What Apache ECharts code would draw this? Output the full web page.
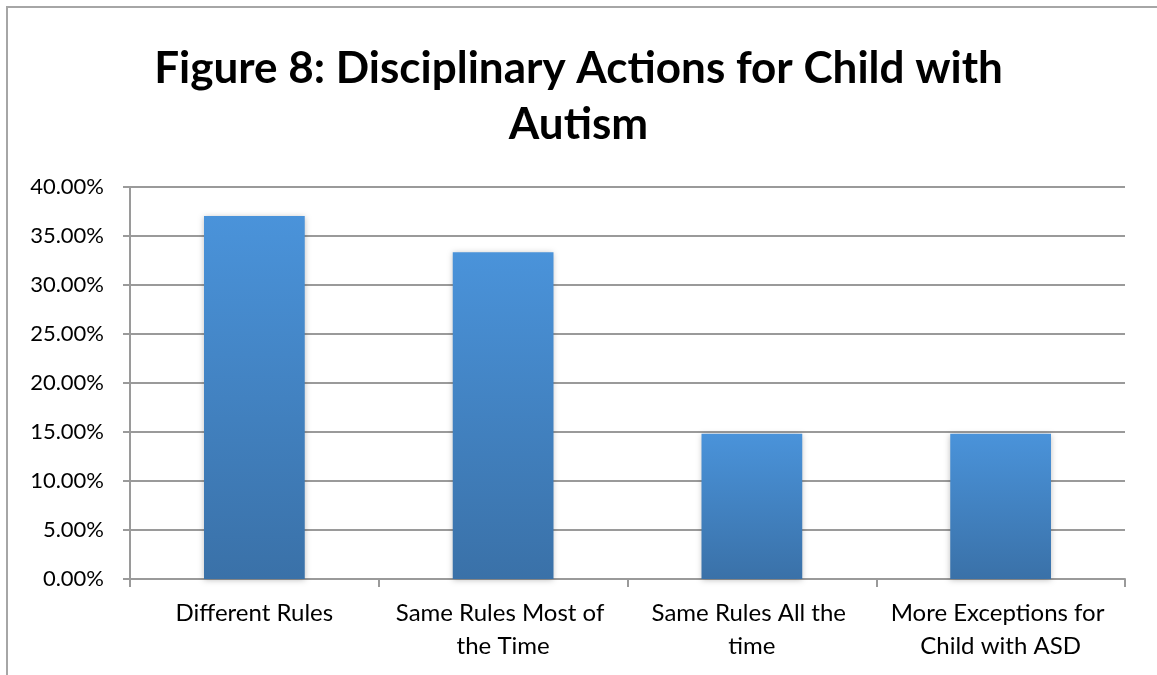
<!DOCTYPE html>
<html>
<head>
<meta charset="utf-8">
<script src="https://cdn.jsdelivr.net/npm/echarts@6/dist/echarts.min.js"></script>
<style>
  html, body { margin: 0; padding: 0; background: #fff; }
  #chart { width: 1157px; height: 675px; }
</style>
</head>
<body>
<div id="chart"></div>
<script>
  var categories = ['Different Rules', 'Same Rules Most of the Time', 'Same Rules All the time', 'More Exceptions for Child with ASD'];
  var values = [37.04, 33.33, 14.81, 14.81];
  var yTicks = { min: 0, max: 40, step: 5 };

  var myChart = echarts.init(document.getElementById('chart'));

  myChart.setOption({
    animation: false,
    title: {
      text: 'Figure 8: Disciplinary Actions for Child with\nAutism',
      left: 'center',
      top: 36,
      textStyle: {
        fontFamily: 'Lato',
        fontWeight: 'bold',
        fontSize: 44,
        lineHeight: 56,
        color: '#000'
      }
    },
    graphic: [{
      type: 'polyline',
      shape: { points: [[7, 680], [7, 7], [1160, 7]] },
      style: { stroke: '#a6a6a6', lineWidth: 2, fill: null },
      silent: true
    }],
    grid: {
      left: 130,
      right: 32,
      top: 187,
      bottom: 96,
      containLabel: false
    },
    xAxis: {
      type: 'category',
      data: categories,
      axisLine: { lineStyle: { color: '#9a9a9a', width: 2 } },
      axisTick: { show: true, length: 8, lineStyle: { color: '#9a9a9a', width: 2 } },
      axisLabel: {
        color: '#000',
        fontFamily: 'Lato',
        fontSize: 24,
        lineHeight: 33,
        margin: 18,
        width: 232,
        overflow: 'break',
        interval: 0
      }
    },
    yAxis: {
      type: 'value',
      min: yTicks.min,
      max: yTicks.max,
      interval: yTicks.step,
      axisLine: { show: true, lineStyle: { color: '#9a9a9a', width: 2 } },
      axisTick: { show: true, length: 7, lineStyle: { color: '#9a9a9a', width: 2 } },
      splitLine: { lineStyle: { color: '#9a9a9a', width: 2 } },
      axisLabel: {
        color: '#000',
        fontFamily: 'Lato',
        fontSize: 22,
        margin: 26,
        formatter: function (v) { return v.toFixed(2) + '%'; }
      }
    },
    series: [{
      type: 'bar',
      data: values,
      barWidth: '40.5%',
      itemStyle: {
        color: new echarts.graphic.LinearGradient(0, 0, 0, 1, [
          { offset: 0, color: '#4a93da' },
          { offset: 1, color: '#3a71a8' }
        ]),
        shadowColor: 'rgba(0,0,0,0.25)',
        shadowBlur: 6,
        shadowOffsetY: 1
      }
    }]
  });
</script>
</body>
</html>
